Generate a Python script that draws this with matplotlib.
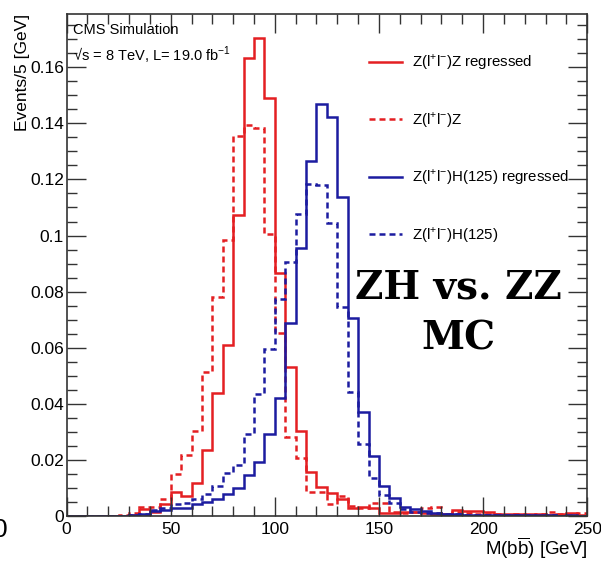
#!/usr/bin/env python3

import numpy as np
import matplotlib
matplotlib.use('Agg')

import matplotlib.pyplot as plt
from matplotlib.ticker import MultipleLocator, FuncFormatter

# 5 GeV bins from 0 to 250 GeV
bin_edges = np.arange(0, 255, 5)

zz_regressed = [
    0, 0, 0, 0, 0, 0, 0.0005, 0.0025, 0.0015, 0.0042,
    0.0084, 0.0073, 0.0118, 0.0236, 0.0440, 0.0608, 0.1075, 0.1632, 0.1705, 0.1490,
    0.0867, 0.0533, 0.0303, 0.0158, 0.0103, 0.0081, 0.0062, 0.0030, 0.0033, 0.0030,
    0.0011, 0.0012, 0.0015, 0.0014, 0.0010, 0.0006, 0.0006, 0.0021, 0.0018, 0.0018,
    0.0014, 0.0008, 0.0008, 0.0007, 0.0007, 0.0006, 0.0005, 0.0006, 0.0009, 0.0004,
]
zz = [
    0, 0, 0, 0, 0, 0.0003, 0.0012, 0.0033, 0.0033, 0.0062,
    0.0150, 0.0217, 0.0303, 0.0515, 0.0782, 0.0984, 0.1355, 0.1395, 0.1385, 0.1004,
    0.0653, 0.0282, 0.0205, 0.0084, 0.0087, 0.0042, 0.0070, 0.0035, 0.0028, 0.0045,
    0.0048, 0.0013, 0.0012, 0.0015, 0.0027, 0.0032, 0.0006, 0.0015, 0.0010, 0.0008,
    0.0006, 0.0007, 0.0005, 0.0006, 0.0005, 0.0008, 0.0014, 0.0006, 0.0005, 0.0012,
]
zh_regressed = [
    0, 0, 0, 0, 0, 0, 0.0003, 0.0008, 0.0018, 0.0022,
    0.0028, 0.0030, 0.0044, 0.0049, 0.0060, 0.0077, 0.0098, 0.0145, 0.0193, 0.0291,
    0.0422, 0.0688, 0.0957, 0.1265, 0.1470, 0.1421, 0.1138, 0.0705, 0.0372, 0.0215,
    0.0106, 0.0064, 0.0031, 0.0026, 0.0016, 0.0012, 0.0007, 0.0006, 0.0005, 0.0005,
    0.0003, 0.0003, 0.0002, 0.0003, 0.0002, 0.0002, 0.0002, 0.0001, 0.0002, 0.0001,
]
zh = [
    0, 0, 0, 0, 0, 0, 0.0003, 0.0008, 0.0020, 0.0028,
    0.0042, 0.0048, 0.0059, 0.0079, 0.0106, 0.0154, 0.0182, 0.0294, 0.0434, 0.0596,
    0.0773, 0.0904, 0.1078, 0.1182, 0.1180, 0.1043, 0.0745, 0.0443, 0.0255, 0.0135,
    0.0076, 0.0047, 0.0026, 0.0015, 0.0012, 0.0010, 0.0008, 0.0006, 0.0005, 0.0003,
    0.0003, 0.0002, 0.0003, 0.0002, 0.0002, 0.0001, 0.0002, 0.0001, 0.0001, 0.0001,
]

labels = [r'Z(l$^{+}$l$^{-}$)Z regressed', r'Z(l$^{+}$l$^{-}$)Z',
          r'Z(l$^{+}$l$^{-}$)H(125) regressed', r'Z(l$^{+}$l$^{-}$)H(125)']

RED = '#e41f22'
BLUE = '#1c1ca0'


def main():
    plt.rcParams['font.family'] = ['Liberation Sans', 'DejaVu Sans']
    plt.rcParams['mathtext.fontset'] = 'custom'
    plt.rcParams['mathtext.rm'] = 'Liberation Sans'

    fig = plt.figure(figsize=(6.01, 5.62), dpi=100)
    ax = fig.add_axes([0.1107, 0.0819, 0.8665, 0.8932])

    dash = (0, (2.4, 1.6))
    ax.stairs(zz_regressed, bin_edges, color=RED, lw=1.8, label=labels[0])
    ax.stairs(zz, bin_edges, color=RED, lw=1.8, ls=dash, label=labels[1])
    ax.stairs(zh_regressed, bin_edges, color=BLUE, lw=1.8, label=labels[2])
    ax.stairs(zh, bin_edges, color=BLUE, lw=1.8, ls=dash, label=labels[3])

    ax.set_xlim(0, 250)
    ax.set_ylim(0, 0.179)

    ax.xaxis.set_major_locator(MultipleLocator(50))
    ax.xaxis.set_minor_locator(MultipleLocator(10))
    ax.yaxis.set_major_locator(MultipleLocator(0.02))
    ax.yaxis.set_minor_locator(MultipleLocator(0.005))
    ax.yaxis.set_major_formatter(FuncFormatter(lambda v, p: '%g' % round(v, 3)))
    ax.tick_params(which='both', direction='in', top=True, right=True,
                   labelsize=12.5, color='#333333')
    ax.tick_params(which='major', length=14, width=1)
    ax.tick_params(which='minor', length=7, width=1)
    ax.tick_params(axis='x', pad=4)
    ax.tick_params(axis='y', pad=2)
    for s in ax.spines.values():
        s.set_color('#333333')
        s.set_linewidth(1.2)

    ax.set_xlabel(r'M(b$\overline{\mathrm{b}}$) [GeV]', fontsize=13.5, loc='right', labelpad=-1)
    ax.set_ylabel('Events/5 [GeV]', fontsize=12.5, loc='top', labelpad=0)

    ax.text(0.012, 0.982, 'CMS Simulation', transform=ax.transAxes,
            fontsize=10.5, va='top', ha='left')
    ax.text(0.012, 0.938, r'√s = 8 TeV, L= 19.0 fb$^{-1}$', transform=ax.transAxes,
            fontsize=10.5, va='top', ha='left')

    ax.legend(loc='upper left', bbox_to_anchor=(0.57, 0.935), frameon=False,
              fontsize=10.8, handlelength=2.2, handletextpad=0.65,
              labelspacing=2.52, borderaxespad=0)

    fig.text(0.762, 0.443, 'ZH vs. ZZ\nMC', ha='center', va='center',
             fontsize=28, fontweight='bold', family='DejaVu Serif',
             linespacing=1.45)

    # fragment of the neighbouring slide text at the left edge
    fig.text(-0.012, 0.057, '0', fontsize=19, ha='left', va='center')

    plt.savefig('out.png', dpi=100)


if __name__ == "__main__":
    main()
